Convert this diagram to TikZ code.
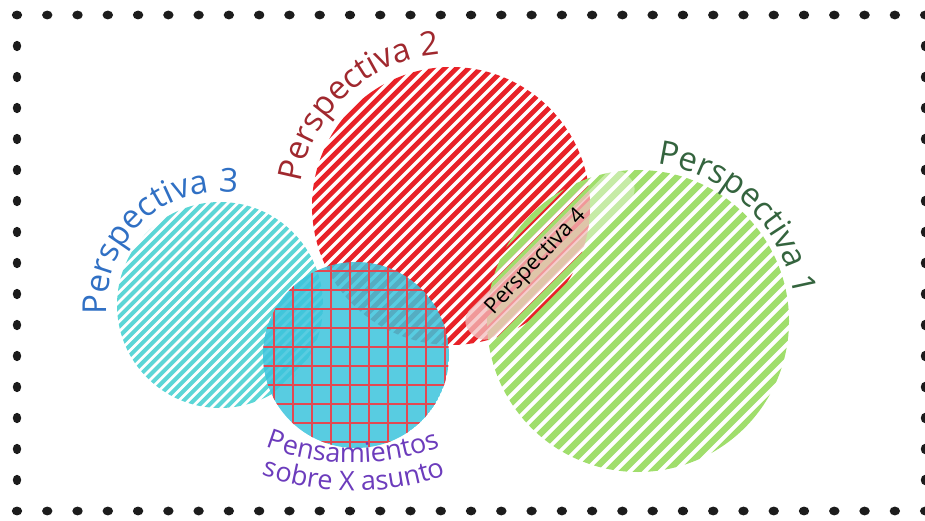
\documentclass[tikz,border=0pt]{standalone}
\usepackage{fontspec}
\setmainfont{Open Sans}
\usetikzlibrary{decorations.text}
\definecolor{dotc}{RGB}{28,28,28}
\definecolor{redS}{RGB}{232,34,40}
\definecolor{greenS}{RGB}{160,222,108}
\definecolor{cyanS}{RGB}{92,214,214}
\definecolor{gridfill}{RGB}{60,196,220}
\definecolor{gridline}{RGB}{226,72,82}
\definecolor{txtA}{RGB}{52,100,62}
\definecolor{txtB}{RGB}{160,40,46}
\definecolor{txtC}{RGB}{48,112,196}
\definecolor{txtD}{RGB}{108,60,188}
\definecolor{pinkband}{RGB}{240,172,172}
\newcommand\mystripes[6]{%
  \begin{scope}
    \clip (#1,#2) circle[radius=#3];
    \begin{scope}[rotate around={45:(#1,#2)}]
      \foreach \k in {-20,...,20}
        \draw[#6, line width=#5] (#1-#3-8,#2+\k*#4) -- (#1+#3+8,#2+\k*#4);
    \end{scope}
  \end{scope}}
\tikzset{
  dotdot/.style={fill=dotc},
  bigtxt/.style={decorate, decoration={text along path, text align=center, raise=0pt}},
}
\begin{document}
\begin{tikzpicture}[x=1pt,y=1pt]
\useasboundingbox (0,0) rectangle (925,-521);
% dotted frame
\foreach \i in {0,...,30} {
  \fill[dotdot] (17+\i*30.27,-15) ellipse[x radius=5.2,y radius=4.4];
  \fill[dotdot] (17+\i*30.27,-511) ellipse[x radius=5.2,y radius=4.4];
}
\foreach \j in {1,...,15} {
  \fill[dotdot] (17,-15-\j*31) ellipse[x radius=4.2,y radius=5.2];
  \fill[dotdot] (925,-15-\j*31) ellipse[x radius=4.2,y radius=5.2];
}
% striped circles
\mystripes{220}{-305}{103}{7}{4}{cyanS}
\mystripes{451}{-206}{139}{8.5}{4.8}{redS}
\mystripes{638}{-321}{151}{10.6}{6.4}{greenS}
% Perspectiva 4 band
\node[rotate=45, fill=white, fill opacity=0.4, rounded corners=16pt,
      minimum width=222pt, minimum height=36pt] (band) at (550,-255) {};
\begin{scope}
  \clip (451,-206) circle[radius=139];
  \node[rotate=45, fill=pinkband, fill opacity=0.6, rounded corners=16pt,
        minimum width=222pt, minimum height=36pt] (bandpink) at (550,-255) {};
\end{scope}
\node[rotate=47, font=\fontsize{22}{25}\selectfont, text=black] (p4) at (536,-262) {Perspectiva 4};
% grid circle
\begin{scope}
  \clip (356,-355) circle[radius=93];
  \fill[gridfill, opacity=0.86] (356,-355) circle[radius=93];
  \foreach \k in {-2,...,8}
    \draw[gridline, line width=1.9] (293+\k*19,-255) -- (293+\k*19,-455);
  \foreach \k in {-2,...,9}
    \draw[gridline, line width=1.9] (255,-290-\k*19) -- (455,-290-\k*19);
\end{scope}
% curved labels
\path[bigtxt, decoration={text={|\fontsize{33}{38}\selectfont\color{txtB}|Perspectiva 2}}]
  (451,-206) ++(185:152) arc[start angle=185, end angle=80, radius=152];
\path[bigtxt, decoration={text={|\fontsize{33}{38}\selectfont\color{txtC}|Perspectiva 3}}]
  (220,-305) ++(200:113) arc[start angle=200, end angle=66, radius=113];
\path[bigtxt, decoration={text={|\fontsize{33}{38}\selectfont\color{txtA}|Perspectiva 1}}]
  (638,-321) ++(100:158) arc[start angle=100, end angle=-8, radius=158];
\path[bigtxt, decoration={text={|\fontsize{27}{31}\selectfont\color{txtD}|Pensamientos}}]
  (353,-220) ++(230:243) arc[start angle=230, end angle=310, radius=243];
\path[bigtxt, decoration={text={|\fontsize{27}{31}\selectfont\color{txtD}|sobre X asunto}}]
  (354,-220) ++(230:271) arc[start angle=230, end angle=310, radius=271];
\end{tikzpicture}
\end{document}
